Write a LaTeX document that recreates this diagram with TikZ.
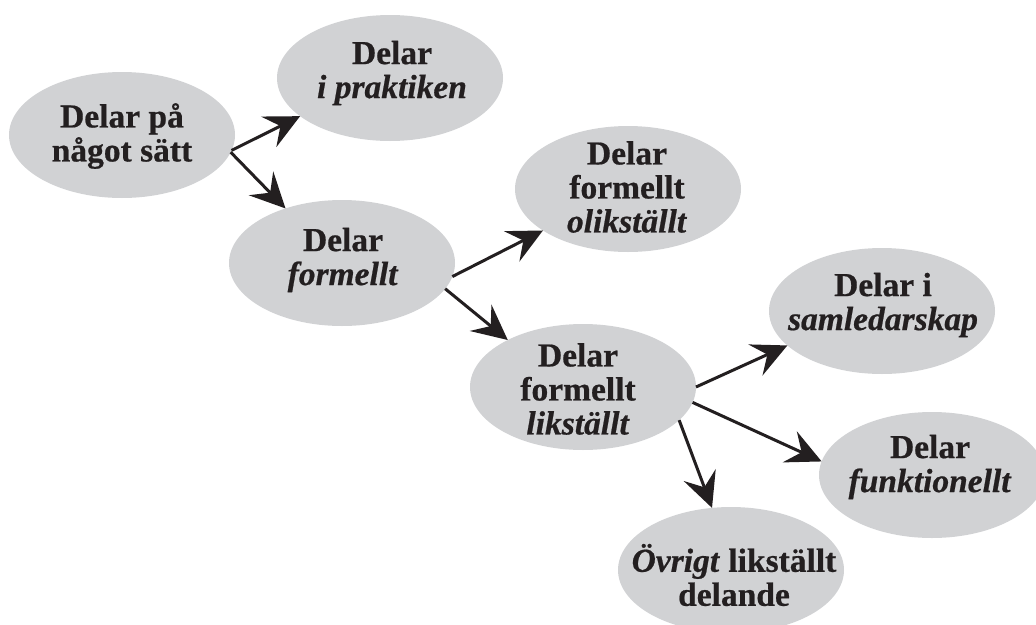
\documentclass[tikz,border=0pt]{standalone}
\usepackage{fontspec}
\setmainfont{Liberation Serif}[BoldFeatures={FakeBold=0.6},BoldItalicFeatures={FakeBold=0.6}]
\usetikzlibrary{shapes.geometric,arrows.meta}
\definecolor{ellgray}{HTML}{D1D2D4}
\definecolor{ink}{HTML}{231F20}
\begin{document}
\begin{tikzpicture}[x=1pt,y=-1pt,
  ell/.style={ellipse, fill=ellgray, draw=none, minimum width=226pt, minimum height=126pt, inner sep=0pt, outer sep=0pt},
  lbl/.style={text=ink, align=center, font=\fontsize{33.5}{34}\selectfont\bfseries, inner sep=0pt},
  conn/.style={draw=ink, line width=3pt, -{Stealth[length=35pt,width=34pt,inset=13pt]}}]
\useasboundingbox (0,0) rectangle (1036,624);
% ellipses
\node[ell] (n1) at (122,135) {};
\node[ell] (n2) at (390,78) {};
\node[ell] (n3) at (342,263) {};
\node[ell] (n4) at (628,189) {};
\node[ell] (n5) at (583,387) {};
\node[ell] (n6) at (882,311) {};
\node[ell] (n7) at (932,475) {};
\node[ell] (n8) at (731,570) {};
% labels
\node[lbl] (t1) at (122,136) {Delar på\\något sätt};
\node[lbl] (t2) at (392,73) {Delar\\\textit{i praktiken}};
\node[lbl] (t3) at (343,260) {Delar\\\textit{formellt}};
\node[lbl] (t4) at (627,187) {Delar\\formellt\\\textit{olikställt}};
\node[lbl] (t5) at (578,389) {Delar\\formellt\\\textit{likställt}};
\node[lbl] (t6) at (883,305) {Delar i\\\textit{samledarskap}};
\node[lbl] (t7) at (930,467) {Delar\\\textit{funktionellt}};
\node[lbl] (t8) at (734,575) {\textit{Övrigt} likställt\\delande};
% connectors
\draw[conn] (n1.-8) -- (n2.203);
\draw[conn] (n1.-9.5) -- (n3.136);
\draw[conn] (n3.-7.2) -- (n4.206.6);
\draw[conn] (n3.-14.3) -- (n5.148.5);
\draw[conn] (n5.0) -- (n6.200.4);
\draw[conn] (n5.-8) -- (n7.173.2);
\draw[conn] (n5.-19.3) -- (n8.107.4);
\end{tikzpicture}
\end{document}
